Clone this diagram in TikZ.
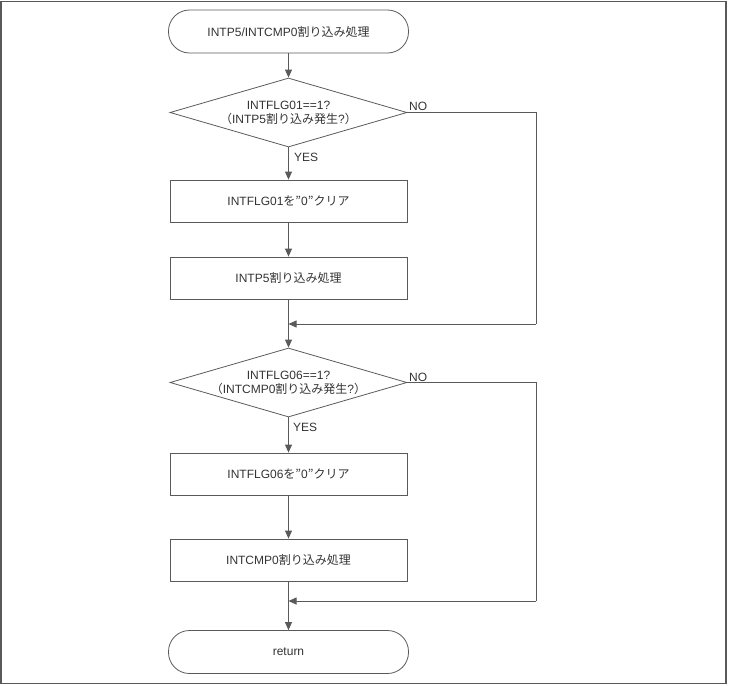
\documentclass[tikz,border=0pt]{standalone}
\usepackage{fontspec}
\setmainfont{Liberation Sans}
\newfontfamily\jpf{Noto Sans CJK JP}
\usetikzlibrary{arrows.meta,shapes.geometric}
\newcommand{\jp}[1]{{\jpf #1}}
\definecolor{ln}{HTML}{5A5A5A}
\definecolor{tx}{HTML}{333333}
\begin{document}
\begin{tikzpicture}[x=1pt,y=-1pt,
  every node/.style={font=\fontsize{12}{14}\selectfont,text=tx},
  term/.style={draw=ln,line width=0.8pt,rounded corners=21pt,minimum width=240pt,minimum height=43pt,inner sep=0pt},
  proc/.style={draw=ln,line width=0.8pt,minimum width=237pt,minimum height=42pt,inner sep=0pt},
  dec/.style={draw=ln,line width=0.8pt,diamond,aspect=3.45,minimum width=237pt,minimum height=69pt,inner sep=0pt,align=center},
  lab/.style={anchor=base west,inner sep=0pt},
  conn/.style={draw=ln,line width=0.8pt},
  arr/.style={conn,-{Triangle[length=8pt,width=7pt]}}]
\useasboundingbox (0,0) rectangle (732,686);
\draw[draw=gray!70!black,line width=1.5pt] (1,1.5) rectangle (726,683.5);
\node[term] (start) at (288.5,31.5) {INTP5/INTCMP0\jp{割り込み処理}};
\node[dec] (d1) at (288.5,112.5) {INTFLG01==1?\\\jp{（}INTP5\jp{割り込み発生}?\jp{）}};
\node[proc] (b1) at (288.5,201) {INTFLG01\jp{を”}0\jp{”クリア}};
\node[proc] (b2) at (288.5,278) {INTP5\jp{割り込み処理}};
\coordinate (m1) at (288.5,324);
\coordinate (r1a) at (536,112.5);
\coordinate (r1b) at (536,324);
\node[dec] (d2) at (288.5,382.5) {INTFLG06==1?\\\jp{（}INTCMP0\jp{割り込み発生}?\jp{）}};
\node[proc] (b3) at (288.5,474) {INTFLG06\jp{を”}0\jp{”クリア}};
\node[proc] (b4) at (288.5,560) {INTCMP0\jp{割り込み処理}};
\coordinate (m2) at (288.5,601);
\coordinate (r2a) at (536,382.5);
\coordinate (r2b) at (536,601);
\node[term] (ret) at (288.5,652) {return};
\node[lab] (no1) at (409,110) {NO};
\node[lab] (yes1) at (294,161) {YES};
\node[lab] (no2) at (409,381) {NO};
\node[lab] (yes2) at (293,431) {YES};
\draw[arr] (start) -- (d1);
\draw[arr] (d1) -- (b1);
\draw[arr] (b1) -- (b2);
\draw[conn] (b2) -- (m1);
\draw[arr] (m1) -- (d2);
\draw[conn] (d1.east) -- (r1a) -- (r1b);
\draw[arr] (r1b) -- (m1);
\draw[arr] (d2) -- (b3);
\draw[arr] (b3) -- (b4);
\draw[conn] (b4) -- (m2);
\draw[arr] (m2) -- (ret);
\draw[conn] (d2.east) -- (r2a) -- (r2b);
\draw[arr] (r2b) -- (m2);
\end{tikzpicture}
\end{document}
